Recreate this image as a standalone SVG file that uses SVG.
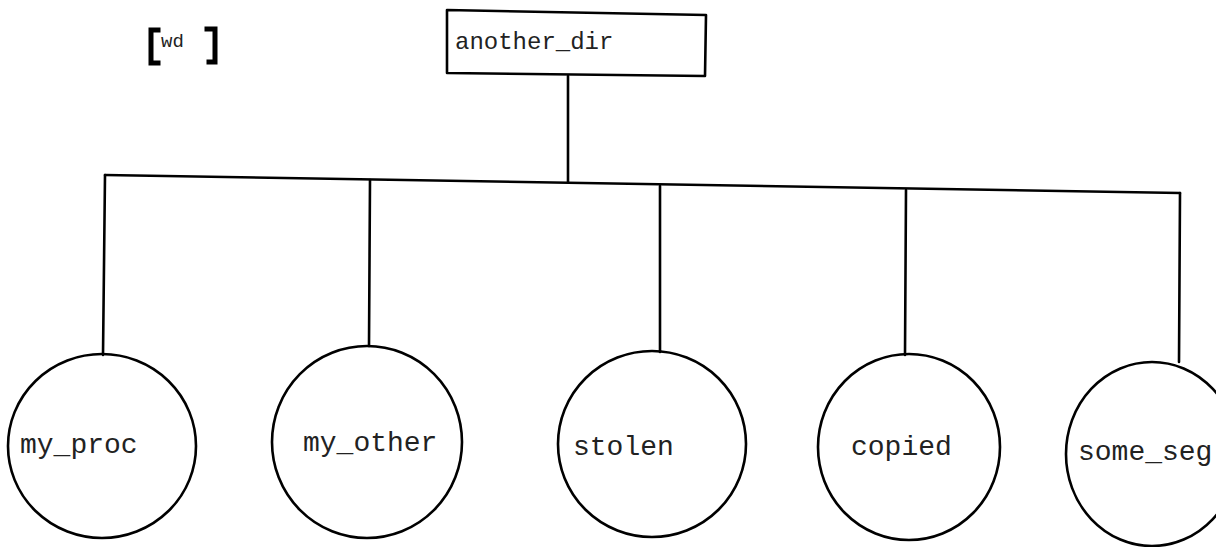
<svg xmlns="http://www.w3.org/2000/svg" width="1216" height="547" viewBox="0 0 1216 547">
  <style>
    .ink { fill: none; stroke: #000; stroke-width: 2.6; stroke-linecap: round; stroke-linejoin: round; }
    .lbl { font-family: "Liberation Mono", "DejaVu Sans Mono", monospace; font-size: 28px; fill: #222; }
    .dir { font-size: 24px; }
    .br { fill: none; stroke: #000; stroke-width: 5; stroke-linecap: square; }
  </style>
  <rect width="1216" height="547" fill="#fff"/>

  <!-- working-directory marker -->
  <g id="wd-marker">
    <path class="br" d="M158 30 L151 30 L151 63 L158 63"/>
    <path class="br" d="M207 29 L215 29 L215 62 L209 62"/>
    <text x="161" y="47" font-family="Liberation Mono, monospace" font-size="19" fill="#222">wd</text>
  </g>

  <!-- connectors -->
  <g id="connectors">
    <line class="ink" x1="568" y1="76" x2="568" y2="182"/>
    <line class="ink" x1="105" y1="175" x2="1180" y2="193"/>
    <line class="ink" x1="105" y1="175" x2="103" y2="355"/>
    <line class="ink" x1="370" y1="180" x2="369" y2="346"/>
    <line class="ink" x1="660" y1="186" x2="660" y2="352"/>
    <line class="ink" x1="906" y1="190" x2="905" y2="355"/>
    <line class="ink" x1="1180" y1="193" x2="1179" y2="362"/>
  </g>

  <g id="node-another_dir">
    <path class="ink" d="M447 10 L706 15 L705 76 L447 73 Z"/>
    <text class="lbl dir" x="455" y="49">another_dir</text>
  </g>

  <g id="node-my_proc">
    <ellipse class="ink" cx="102" cy="446" rx="94" ry="92"/>
    <text class="lbl" x="20" y="453">my_proc</text>
  </g>

  <g id="node-my_other">
    <ellipse class="ink" cx="367" cy="442" rx="95" ry="96"/>
    <text class="lbl" x="303" y="451">my_other</text>
  </g>

  <g id="node-stolen">
    <ellipse class="ink" cx="652" cy="444" rx="94" ry="93"/>
    <text class="lbl" x="573" y="455">stolen</text>
  </g>

  <g id="node-copied">
    <ellipse class="ink" cx="909" cy="447" rx="91" ry="93"/>
    <text class="lbl" x="851" y="455">copied</text>
  </g>

  <g id="node-some_seg">
    <ellipse class="ink" cx="1152" cy="454" rx="86" ry="92"/>
    <text class="lbl" x="1078" y="460">some_seg</text>
  </g>
</svg>
